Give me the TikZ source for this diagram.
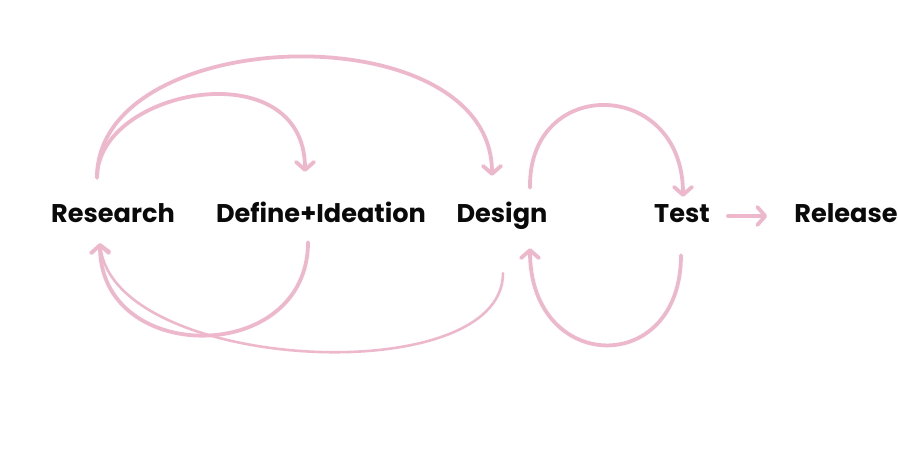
\documentclass[tikz,border=0pt]{standalone}
\usepackage{fontspec}
\setmainfont{Poppins}
\usetikzlibrary{arrows.meta,calc}
\definecolor{rosepink}{HTML}{EEB8CC}
\definecolor{ink}{HTML}{0A0A0A}
\tikzset{
  stage/.style={text=ink, font=\fontsize{25.6}{30}\selectfont\bfseries, inner sep=0pt, text height=17pt, text depth=5pt, anchor=base},
  flow/.style={draw=rosepink, line width=3.8pt, line cap=round, -{Straight Barb[length=8pt,width=18pt,round]}},
  thinflow/.style={flow, line width=2.6pt}
}

\begin{document}
\begin{tikzpicture}[x=1pt,y=-1pt]
  \useasboundingbox (0,0) rectangle (898,456);
  \node[stage] (research) at (113,222) {Research};
  \node[stage] (define) at (321,222) {Define+Ideation};
  \node[stage] (design) at (502,222) {Design};
  \node[stage] (test) at (682,222) {Test};
  \node[stage] (release) at (846,222) {Release};
  % arcs over the top
  \draw[flow] ($(research.north)+(-16,-27)$) .. controls (97,88) and (305,50) .. ($(define.north)+(-16,-33)$);
  \draw[flow] ($(research.north)+(-16,-27)$) .. controls (97,22) and (492,12) .. ($(design.north)+(-10,-29)$);
  % arcs back underneath
  \draw[flow] ($(define.south)+(-13,15)$) .. controls (308,366) and (100,366) .. ($(research.south)+(-13,16)$);
  \draw[thinflow] ($(design.south)+(1,46)$) .. controls (503,392) and (112,372) .. ($(research.south)+(-13,16)$);
  % design/test loop
  \draw[flow] ($(design.north)+(28,-17)$) .. controls (528,75) and (683,78) .. ($(test.north)+(1,-8)$);
  \draw[flow] ($(test.south)+(-1,28)$) .. controls (681,378) and (530,374) .. ($(design.south)+(28,21)$);
  \draw[flow] ([xshift=18pt]test.east) -- ([xshift=-27pt]release.west);
\end{tikzpicture}
\end{document}
